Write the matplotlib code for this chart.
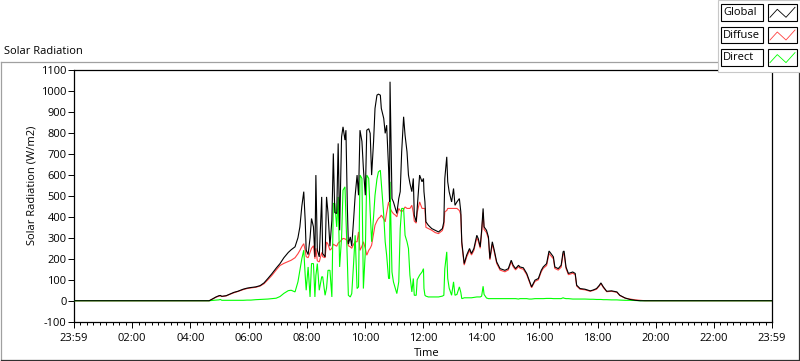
import matplotlib
matplotlib.use("Agg")
import matplotlib.pyplot as plt
from matplotlib.lines import Line2D
from matplotlib.patches import Rectangle

# ---------------- data (minutes after 23:59 start, W/m2) ----------------
minutes = [0, 279, 283, 287, 293, 299, 302, 305, 314, 322, 330, 338, 349, 357, 365, 375,
           384, 392, 400, 408, 417, 425, 433, 442, 448, 456, 462, 466, 470, 474, 477,
           479, 483, 487, 490, 494, 497, 499, 502, 506, 511, 513, 518, 521, 524, 528,
           532, 535, 538, 542, 545, 548, 552, 555, 559, 561, 564, 566, 570, 573, 577,
           580, 584, 587, 590, 594, 597, 601, 604, 608, 611, 614, 618, 621, 625, 628,
           632, 634, 639, 642, 645, 649, 651, 652, 656, 659, 663, 666, 670, 673, 676,
           680, 683, 687, 690, 693, 697, 700, 702, 706, 708, 713, 718, 721, 722, 724,
           726, 731, 738, 745, 752, 760, 763, 765, 769, 771, 774, 779, 783, 786, 790,
           795, 798, 800, 803, 805, 810, 816, 820, 825, 831, 834, 838, 841, 844, 846,
           851, 855, 858, 863, 867, 872, 879, 889, 896, 902, 906, 911, 917, 920, 927,
           934, 939, 944, 951, 958, 964, 968, 975, 980, 984, 989, 992, 999, 1005, 1009,
           1011, 1015, 1020, 1029, 1034, 1037, 1044, 1054, 1065, 1071, 1078, 1084, 1087,
           1092, 1099, 1109, 1120, 1126, 1137, 1147, 1158, 1168, 1178, 1440]

global_rad = [0, 0, 5, 10, 18, 24, 25, 21, 24, 32, 40, 45, 55, 60, 63, 66,
              72, 85, 106, 128, 155, 177, 205, 230, 243, 257, 300, 352, 450, 520, 380,
              241, 220, 300, 392, 352, 209, 599, 241, 209, 495, 225, 209, 495, 420, 260,
              384, 702, 420, 416, 750, 336, 781, 829, 766, 813, 440, 270, 304, 260, 392,
              500, 599, 503, 813, 760, 631, 503, 813, 820, 798, 599, 758, 917, 980, 985,
              980, 917, 869, 798, 837, 631, 471, 1044, 487, 471, 440, 416, 487, 520, 710,
              877, 789, 710, 599, 560, 520, 583, 408, 376, 440, 599, 567, 583, 520, 471,
              376, 360, 344, 336, 328, 344, 376, 583, 686, 567, 519, 471, 535, 455, 471,
              487, 424, 281, 217, 177, 217, 249, 225, 249, 312, 296, 257, 336, 440, 352,
              336, 304, 201, 281, 241, 185, 153, 145, 153, 193, 169, 153, 169, 161, 157,
              130, 98, 66, 98, 106, 145, 161, 177, 237, 225, 209, 161, 153, 169, 233,
              237, 161, 130, 137, 130, 74, 58, 55, 47, 51, 58, 74, 85,
              66, 45, 47, 42, 26, 13, 6, 2, 0, 0, 0]

diffuse_rad = [0, 0, 5, 9, 17, 22, 23, 20, 23, 31, 38, 44, 53, 58, 61, 64,
               70, 81, 100, 120, 146, 168, 178, 187, 193, 205, 224, 240, 258, 272, 240,
               210, 205, 230, 250, 262, 200, 250, 190, 185, 230, 210, 205, 280, 270, 241,
               250, 270, 265, 260, 275, 280, 290, 297, 295, 292, 285, 262, 257, 250, 270,
               281, 281, 328, 240, 260, 281, 250, 217, 240, 250, 265, 320, 360, 380, 392,
               400, 408, 390, 376, 420, 471, 450, 440, 424, 415, 408, 400, 440, 430, 424,
               435, 447, 440, 440, 440, 455, 420, 380, 370, 420, 471, 440, 440, 440, 440,
               350, 344, 336, 325, 320, 335, 360, 424, 430, 440, 440, 440, 440, 440, 440,
               430, 410, 270, 210, 170, 208, 240, 218, 240, 300, 285, 250, 325, 420, 340,
               325, 295, 195, 270, 232, 178, 146, 138, 147, 185, 162, 147, 162, 155, 150,
               124, 93, 62, 92, 100, 138, 154, 168, 225, 214, 200, 154, 146, 160, 222,
               226, 154, 124, 131, 124, 70, 55, 52, 45, 49, 55, 71, 82,
               63, 43, 45, 40, 25, 12, 8, 4, 2, 0, 0]

direct_rad = [0, 0, 1, 2, 3, 4, 6, 2, 2, 2, 2, 2, 2, 3, 3, 5,
              6, 7, 8, 10, 12, 20, 35, 48, 50, 42, 90, 145, 200, 241, 120,
              50, 161, 18, 177, 177, 18, 120, 177, 50, 114, 114, 26, 60, 145, 145,
              18, 464, 464, 352, 495, 161, 300, 527, 543, 400, 185, 26, 18, 34, 185,
              312, 58, 66, 599, 583, 58, 233, 599, 583, 424, 281, 400, 503, 580, 614,
              622, 560, 408, 281, 217, 106, 106, 567, 137, 90, 58, 34, 90, 344, 440,
              440, 312, 281, 249, 122, 42, 106, 26, 26, 100, 122, 137, 153, 58, 26,
              22, 18, 18, 18, 18, 22, 26, 153, 233, 106, 60, 26, 90, 26, 30,
              66, 40, 10, 12, 14, 14, 14, 14, 16, 18, 18, 18, 22, 69, 30,
              13, 10, 10, 10, 10, 10, 10, 10, 10, 10, 10, 10, 8, 10, 10,
              10, 8, 8, 10, 10, 10, 10, 11, 11, 11, 10, 10, 10, 10, 14,
              12, 10, 10, 8, 8, 8, 8, 8, 7, 7, 6, 6, 6,
              5, 5, 4, 4, 3, 2, 2, 1, 0, 0, 0]

x_tick_values = [0, 120, 240, 360, 480, 600, 720, 840, 960, 1080, 1200, 1320, 1440]
x_tick_labels = ["23:59", "02:00", "04:00", "06:00", "08:00", "10:00", "12:00",
                 "14:00", "16:00", "18:00", "20:00", "22:00", "23:59"]
y_tick_values = [-100, 0, 100, 200, 300, 400, 500, 600, 700, 800, 900, 1000, 1100]

series_names = ["Global", "Diffuse", "Direct"]
series_colors = ["#000000", "#FF4040", "#00FF00"]

# ---------------- figure ----------------
plt.rcParams['font.family'] = ['Open Sans', 'DejaVu Sans']
FS = 8.0
W, H = 800, 361
fig = plt.figure(figsize=(W / 100, H / 100), dpi=100)
fig.patch.set_facecolor("white")

def fx(px):
    return px / W

def fy(py):
    return 1 - py / H

# outer frame (3D style)
fig.add_artist(Line2D([fx(0.5), fx(797.5)], [fy(61.5), fy(61.5)], color="#A0A0A0", lw=0.9))
fig.add_artist(Line2D([fx(0.5), fx(0.5)], [fy(61.5), fy(359.5)], color="#A0A0A0", lw=0.9))
fig.add_artist(Line2D([fx(0.5), fx(798.5)], [fy(359.5), fy(359.5)], color="#303030", lw=0.9))
fig.add_artist(Line2D([fx(798.5), fx(798.5)], [fy(61.5), fy(359.5)], color="#303030", lw=0.9))

fig.text(fx(4), fy(51), "Solar Radiation", fontsize=FS, ha="left", va="center", color="#000000")

ax = fig.add_axes([fx(74), fy(321.7), (772 - 74) / W, (321.7 - 70) / H])
ax.set_facecolor("white")

series = [global_rad, diffuse_rad, direct_rad]
zorders = [4, 2, 3]
for vals, name, col, z in zip(series, series_names, series_colors, zorders):
    ax.plot(minutes, vals, color=col, lw=0.8, label=name, zorder=z,
            solid_joinstyle="miter")

ax.set_xlim(0, 1440)
ax.set_ylim(-100, 1100)
ax.set_xticks(x_tick_values)
ax.set_xticklabels(x_tick_labels)
minor_x = [i * 120 / 9 for i in range(0, 9 * 12 + 1) if i % 9 != 0]
ax.set_xticks(minor_x, minor=True)
ax.set_yticks(y_tick_values)
ax.set_yticklabels([str(v) for v in y_tick_values])
ax.tick_params(axis="x", which="major", direction="out", length=4, width=0.7,
               pad=4, labelsize=FS, colors="#000000")
ax.tick_params(axis="x", which="minor", direction="out", length=2.2, width=0.7)
ax.tick_params(axis="y", which="major", direction="out", length=4.3, width=0.7,
               pad=1, labelsize=FS, colors="#000000")
for s in ax.spines.values():
    s.set_linewidth(0.9)
    s.set_color("#000000")

fig.text(fx(32), fy(185), "Solar Radiation (W/m2)", rotation=90, fontsize=FS,
         ha="center", va="center")
fig.text(fx(427), fy(354), "Time", fontsize=FS, ha="center", va="center")

# ---------------- legend (LabVIEW style) ----------------
fig.add_artist(Rectangle((fx(717.5), fy(71.5)), fx(800) - fx(717.5), fy(0) - fy(71.5),
                         facecolor="white", edgecolor="#C8C8C8", lw=0.8, zorder=10))
row_tops = [4, 26.7, 49.3]
for top, name, col in zip(row_tops, series_names, series_colors):
    bot = top + 16.7
    fig.add_artist(Rectangle((fx(720.7), fy(bot)), fx(763.3) - fx(720.7), fy(top) - fy(bot),
                             facecolor="white", edgecolor="black", lw=0.8, zorder=11))
    fig.text(fx(723), fy(top + 8.3), name, fontsize=FS, ha="left", va="center", zorder=12)
    fig.add_artist(Rectangle((fx(767.7), fy(bot)), fx(796.7) - fx(767.7), fy(top) - fy(bot),
                             facecolor="white", edgecolor="black", lw=0.8, zorder=11))
    fig.add_artist(Line2D([fx(770), fx(777.3), fx(786), fx(795)],
                          [fy(top + 13.3), fy(top + 5.3), fy(top + 13.3), fy(top + 3.3)],
                          color=col, lw=0.6, zorder=12))

fig.savefig("out.png", dpi=100, facecolor="white")
